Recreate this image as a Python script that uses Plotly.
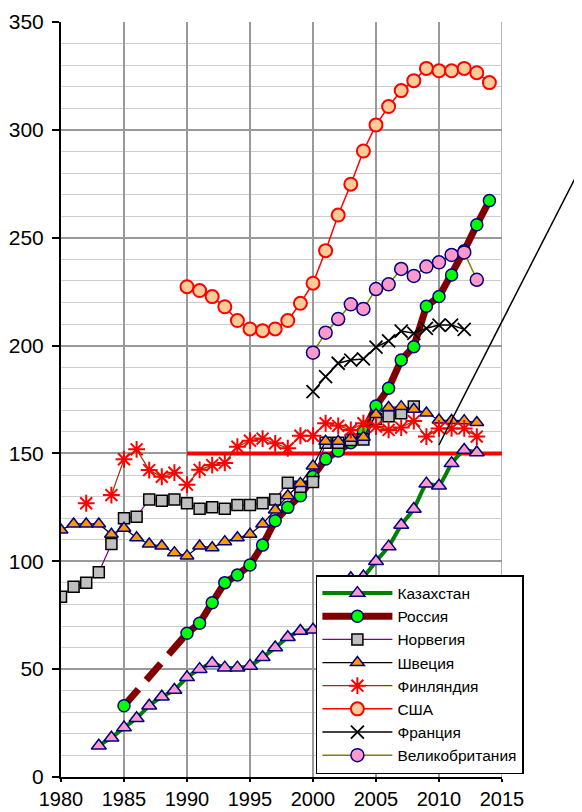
import plotly.graph_objects as go

# ---- data ----
years_kz = list(range(1983, 2014))
kazakhstan = [14.5, 18.2, 22.9, 27.2, 33.0, 37.2, 40.3, 46.2, 50.0, 52.7, 50.7, 50.7, 51.5, 55.5,
              60.0, 64.8, 67.7, 68.3, 73.7, 81.3, 92.1, 92.9, 100.0, 106.8, 116.8, 124.2, 136.0,
              135.0, 145.4, 151.6, 150.4]

years_ru = list(range(1985, 2015))
russia = [33.0, None, None, None, None, 66.6, 71.3, 80.8, 90.1, 93.6, 98.3, 107.5, 118.8, 125.0,
          130.4, 139.3, 147.4, 151.1, 155.0, 160.0, 172.0, 180.2, 193.3, 199.5, 218.2, 222.7,
          232.7, 244.0, 256.0, 267.2]

years_no = list(range(1980, 2009))
norway = [83.6, 88.2, 90.1, 94.9, 108.0, 119.9, 120.7, 128.7, 128.1, 128.7, 126.9, 124.4, 125.0,
          124.4, 126.1, 126.1, 126.9, 128.7, 136.4, 134.6, 136.8, 155.0, 155.0, 156.2, 156.5,
          166.0, 167.2, 168.6, 171.7]

years_se = list(range(1980, 2014))
sweden = [114.5, 117.3, 117.3, 117.3, 112.5, 115.3, 110.9, 108.0, 107.1, 104.0, 102.5, 107.1,
          106.3, 109.1, 110.9, 112.5, 117.3, 123.8, 130.4, 136.1, 144.2, 155.6, 155.6, 157.0,
          157.5, 168.0, 171.3, 171.7, 170.5, 168.7, 165.5, 165.3, 165.2, 164.3]

years_fi = list(range(1982, 2014))
finland = [126.9, None, 130.7, 147.3, 151.9, 142.3, 139.2, 141.1, 135.5, 142.4, 144.6, 145.6,
           153.1, 155.9, 156.9, 154.7, 152.4, 158.2, 158.2, 164.0, 162.8, 160.9, 164.0, 162.4,
           160.9, 162.0, 165.0, 157.8, 161.6, 161.6, 161.6, 157.8]

years_us = list(range(1990, 2015))
usa = [227.3, 225.5, 222.7, 218.0, 211.6, 207.7, 206.9, 207.7, 211.6, 219.6, 228.9, 244.0, 260.5,
       274.8, 290.2, 302.3, 310.8, 318.2, 322.8, 328.5, 327.4, 327.4, 328.5, 326.5, 321.9]

years_fr = list(range(2000, 2013))
france = [178.6, 185.6, 191.8, 193.3, 193.8, 199.3, 202.2, 206.7, 205.7, 208.0, 209.5, 209.5, 207.5]

years_uk = list(range(2000, 2014))
uk = [196.7, 206.0, 212.3, 219.1, 217.0, 226.2, 228.4, 235.5, 232.3, 236.6, 238.6, 242.0, 243.2, 230.5]

level_years = [1990, 2015]
level_values = [150, 150]

x_ticks = [1980, 1985, 1990, 1995, 2000, 2005, 2010, 2015]
y_ticks = [0, 50, 100, 150, 200, 250, 300, 350]

names = ["Казахстан", "Россия", "Норвегия", "Швеция", "Финляндия", "США", "Франция", "Великобритания"]

NAVY = "#000080"
FONT = "Liberation Sans, Arial, sans-serif"

fig = go.Figure()

# horizontal 150 level line
fig.add_trace(go.Scatter(x=level_years, y=level_values, mode="lines",
                         line=dict(color="#FF0000", width=4), showlegend=False, hoverinfo="skip"))

# Kazakhstan
fig.add_trace(go.Scatter(x=years_kz, y=kazakhstan, name=names[0], mode="lines+markers",
                         line=dict(color="#008000", width=4, shape="spline", smoothing=0.4),
                         marker=dict(symbol="triangle-up", size=13, color="#FF99CC",
                                     line=dict(color=NAVY, width=1.5))))

# Russia dashed gap segment 1985-1990
fig.add_trace(go.Scatter(x=[years_ru[0], years_ru[5]], y=[russia[0], russia[5]], mode="lines",
                         line=dict(color="#800000", width=7, dash="22px,12px"),
                         showlegend=False, hoverinfo="skip"))
# Russia
fig.add_trace(go.Scatter(x=years_ru, y=russia, name=names[1], mode="lines+markers",
                         connectgaps=False,
                         line=dict(color="#800000", width=7),
                         marker=dict(symbol="circle", size=12, color="#00FF00",
                                     line=dict(color=NAVY, width=1.5))))

# Norway
fig.add_trace(go.Scatter(x=years_no, y=norway, name=names[2], mode="lines+markers",
                         line=dict(color="#800080", width=1.2),
                         marker=dict(symbol="square", size=11, color="#C0C0C0",
                                     line=dict(color="#000000", width=1.5))))

# Sweden
fig.add_trace(go.Scatter(x=years_se, y=sweden, name=names[3], mode="lines+markers",
                         line=dict(color="#000000", width=1.2),
                         marker=dict(symbol="triangle-up", size=12, color="#FF9900",
                                     line=dict(color=NAVY, width=1.5))))

# Finland
fig.add_trace(go.Scatter(x=years_fi, y=finland, name=names[4], mode="lines+markers",
                         connectgaps=False,
                         line=dict(color="#993300", width=1.2),
                         marker=dict(symbol="asterisk-open", size=14, color="#FF0000",
                                     line=dict(color="#FF0000", width=2))))

# USA
fig.add_trace(go.Scatter(x=years_us, y=usa, name=names[5], mode="lines+markers",
                         line=dict(color="#FF0000", width=1.5),
                         marker=dict(symbol="circle", size=13, color="#FFCC99",
                                     line=dict(color="#FF0000", width=2))))

# France
fig.add_trace(go.Scatter(x=years_fr, y=france, name=names[6], mode="lines+markers",
                         line=dict(color="#000000", width=1.5),
                         marker=dict(symbol="x-thin-open", size=13, color="#000000",
                                     line=dict(color="#000000", width=1.8))))

# UK
fig.add_trace(go.Scatter(x=years_uk, y=uk, name=names[7], mode="lines+markers",
                         line=dict(color="#808000", width=1.5),
                         marker=dict(symbol="circle", size=13, color="#FF99CC",
                                     line=dict(color=NAVY, width=1.5))))

fig.update_layout(
    width=574, height=804,
    margin=dict(l=53, r=80, t=14, b=35, autoexpand=False),
    paper_bgcolor="white", plot_bgcolor="white",
    font=dict(family=FONT, size=21, color="black"),
    showlegend=True,
    legend=dict(x=0.578, y=0.2675, xanchor="left", yanchor="top",
                bgcolor="white", bordercolor="black", borderwidth=1.5,
                font=dict(family=FONT, size=15.5, color="black"),
                itemwidth=70, tracegroupgap=0),
    shapes=[
        # right frame line of the plot area
        dict(type="line", xref="x", yref="paper", x0=2015, x1=2015, y0=0, y1=1,
             line=dict(color="#999999", width=1.5), layer="below"),
        # stray diagonal line
        dict(type="line", xref="paper", yref="paper", x0=0.857, y0=0.4397,
             x1=1.181, y1=0.8106, line=dict(color="black", width=1.5)),
    ],
)

fig.update_xaxes(range=[1980, 2015], tickvals=x_ticks, ticktext=[str(v) for v in x_ticks],
                 automargin=False,
                 showline=True, linecolor="black", linewidth=2,
                 ticks="outside", ticklen=3, tickcolor="black", tickwidth=1.5,
                 showgrid=True, gridcolor="#999999", gridwidth=1.5, zeroline=False,
                 tickfont=dict(size=20), ticklabelstandoff=0)
fig.update_yaxes(range=[0, 350], tickvals=y_ticks,
                 automargin=False,
                 showline=True, linecolor="black", linewidth=2,
                 ticks="outside", ticklen=7, tickcolor="black", tickwidth=1.5,
                 showgrid=True, gridcolor="#999999", gridwidth=1.5, zeroline=False,
                 minor=dict(dtick=10, showgrid=True, gridcolor="#CCCCCC", gridwidth=1.2, ticks=""),
                 tickfont=dict(size=21), ticklabelstandoff=4)

fig.write_html("out.html")
